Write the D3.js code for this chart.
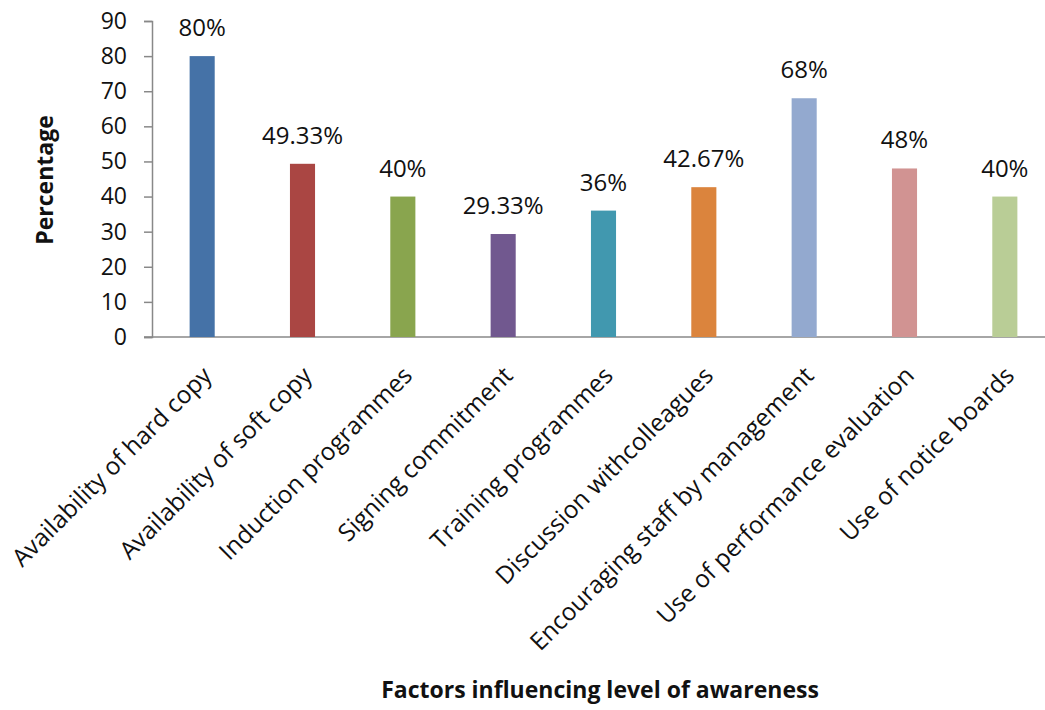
<!DOCTYPE html>
<html>
<head>
<meta charset="utf-8">
<script src="https://cdn.jsdelivr.net/npm/d3@7"></script>
<style>
  body { margin: 0; background: #fff; }
  text { font-family: "Open Sans", "Noto Sans", sans-serif; fill: #111; }
</style>
</head>
<body>
<div id="chart"></div>
<script>
// Chart data
var categories = [
    "Availability of hard copy",
    "Availability of soft copy",
    "Induction programmes",
    "Signing commitment",
    "Training programmes",
    "Discussion withcolleagues",
    "Encouraging staff by management",
    "Use of performance evaluation",
    "Use of notice boards"
];
var values = [80, 49.33, 40, 29.33, 36, 42.67, 68, 48, 40];
var valueLabels = ["80%", "49.33%", "40%", "29.33%", "36%", "42.67%", "68%", "48%", "40%"];
var colors = ["#4572A7", "#AA4643", "#89A54E", "#71588F", "#4198AF", "#DB843D", "#93A9CF", "#D19392", "#B9CD96"];
var yTicks = [0, 10, 20, 30, 40, 50, 60, 70, 80, 90];

var width = 1045, height = 710;

var svg = d3.select("#chart").append("svg")
    .attr("width", width)
    .attr("height", height);

// Scales
var x = d3.scaleBand().domain(categories).range([152, 1055]).paddingInner(0.75).paddingOuter(0.375);
var y = d3.scaleLinear().domain([0, 90]).range([337, 21]);

// Y axis
var yAxis = svg.append("g")
    .attr("transform", "translate(152,0)")
    .call(d3.axisLeft(y).tickValues(yTicks).tickSize(8).tickPadding(17));
yAxis.select(".domain").attr("stroke", "#888").attr("stroke-width", 1.5);
yAxis.selectAll(".tick line").attr("stroke", "#888").attr("stroke-width", 1.5);
yAxis.selectAll(".tick text")
    .style("font-family", "'Open Sans', sans-serif")
    .style("font-size", "23px")
    .attr("fill", "#111");

// Baseline
svg.append("line")
    .attr("x1", 144).attr("x2", width)
    .attr("y1", y(0)).attr("y2", y(0))
    .attr("stroke", "#888").attr("stroke-width", 1.5);

// Bars
svg.selectAll(".bar")
    .data(values)
    .join("rect")
    .attr("class", "bar")
    .attr("x", (d, i) => x(categories[i]))
    .attr("y", d => y(d))
    .attr("width", x.bandwidth())
    .attr("height", d => y(0) - y(d))
    .attr("fill", (d, i) => colors[i]);

// Value labels
svg.selectAll(".val")
    .data(values)
    .join("text")
    .attr("class", "val")
    .attr("x", (d, i) => x(categories[i]) + x.bandwidth() / 2)
    .attr("y", d => y(d) - 20)
    .attr("text-anchor", "middle")
    .style("font-size", "24px")
    .text((d, i) => valueLabels[i]);

// Category labels, rotated
svg.selectAll(".cat")
    .data(categories)
    .join("text")
    .attr("class", "cat")
    .attr("text-anchor", "end")
    .attr("transform", d => "translate(" + (x(d) + x.bandwidth() / 2 + 11) + "," + (y(0) + 40) + ") rotate(-45)")
    .style("font-size", "24.4px")
    .text(d => d);

// Axis titles
svg.append("text")
    .attr("x", 600).attr("y", 698)
    .attr("text-anchor", "middle")
    .style("font-size", "23px")
    .style("font-weight", "bold")
    .text("Factors influencing level of awareness");

svg.append("text")
    .attr("transform", "translate(53,180) rotate(-90)")
    .attr("text-anchor", "middle")
    .style("font-size", "23px")
    .style("font-weight", "bold")
    .text("Percentage");
</script>
</body>
</html>
